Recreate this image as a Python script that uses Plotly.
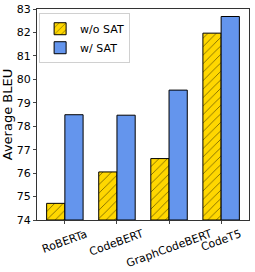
import plotly.graph_objects as go

models = ["RoBERTa", "CodeBERT", "GraphCodeBERT", "CodeT5"]
wo_sat = [74.71, 76.05, 76.62, 81.97]
w_sat = [78.49, 78.47, 79.54, 82.68]
y_ticks = [74, 75, 76, 77, 78, 79, 80, 81, 82, 83]
label_shift = [-21, -22, -28, -20]

xs = list(range(len(models)))
fig = go.Figure()
fig.add_trace(go.Bar(
    x=xs, y=[v - 74 for v in wo_sat], base=74, name="w/o SAT",
    width=0.35, offset=-0.35,
    marker=dict(color="#FFD700", line=dict(color="black", width=1),
                pattern=dict(shape="/", fgcolor="black", bgcolor="#FFD700", size=6, solidity=0.15)),
))
fig.add_trace(go.Bar(
    x=xs, y=[v - 74 for v in w_sat], base=74, name="w/ SAT",
    width=0.35, offset=0,
    marker=dict(color="#6495ED", line=dict(color="black", width=1)),
))
for x, m, s in zip(xs, models, label_shift):
    fig.add_annotation(x=x, y=0, xref="x", yref="paper", text=m, showarrow=False,
                       textangle=-20, xanchor="center", yanchor="middle", yshift=s,
                       font=dict(size=11, family="DejaVu Sans", color="black"))
fig.update_layout(
    width=255, height=272,
    margin=dict(l=37, r=6, t=9, b=52),
    plot_bgcolor="white", paper_bgcolor="white",
    font=dict(family="DejaVu Sans", size=11, color="black"),
    showlegend=True,
    legend=dict(x=0.01, y=0.98, xanchor="left", yanchor="top",
                bgcolor="rgba(255,255,255,0.8)", bordercolor="#d0d0d0", borderwidth=1,
                font=dict(size=11), tracegroupgap=0),
    barmode="overlay",
)
fig.update_xaxes(range=[-0.535, 3.535], tickvals=xs, ticktext=["" for _ in models],
                 showline=True, linecolor="#333", mirror=True, ticks="outside",
                 ticklen=3, showgrid=False, automargin=False)
fig.update_yaxes(range=[74, 83], tickvals=y_ticks, title=dict(text="Average BLEU", standoff=4),
                 showline=True, linecolor="#333", mirror=True, ticks="outside",
                 ticklen=3, showgrid=False, zeroline=False, tickfont=dict(size=11),
                 automargin=False)
fig.write_html("out.html", config={"displayModeBar": False},
               post_script="document.body.style.margin='0';")
